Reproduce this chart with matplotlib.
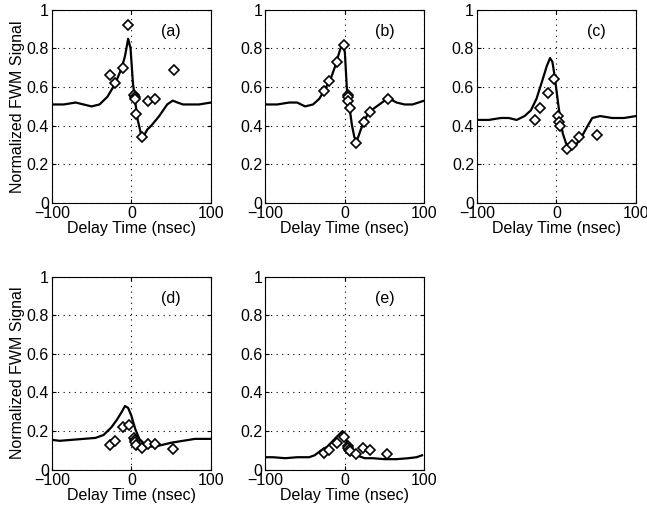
import numpy as np
import matplotlib.pyplot as plt

plt.rcParams['font.family'] = ['Liberation Sans', 'DejaVu Sans']

# --- curve data (delay time, normalized signal) ---
curve_a_t = [-100, -85, -70, -60, -50, -40, -30, -20, -12, -8, -4, -1, 2, 5, 8, 12, 16, 20, 25, 35, 45, 52, 58, 65, 75, 85, 100]
curve_a_y = [0.51, 0.51, 0.52, 0.51, 0.50, 0.51, 0.55, 0.62, 0.70, 0.76, 0.85, 0.80, 0.62, 0.52, 0.43, 0.36, 0.35, 0.38, 0.40, 0.45, 0.51, 0.53, 0.52, 0.51, 0.51, 0.51, 0.52]

curve_b_t = [-100, -85, -70, -60, -50, -40, -32, -25, -18, -12, -7, -3, 0, 3, 6, 9, 12, 15, 20, 25, 30, 40, 50, 56, 65, 75, 85, 100]
curve_b_y = [0.51, 0.51, 0.52, 0.52, 0.50, 0.51, 0.54, 0.59, 0.64, 0.71, 0.78, 0.83, 0.78, 0.56, 0.49, 0.40, 0.34, 0.32, 0.38, 0.43, 0.47, 0.50, 0.53, 0.54, 0.52, 0.51, 0.51, 0.53]

curve_c_t = [-100, -85, -70, -60, -50, -40, -32, -25, -18, -12, -8, -5, -2, 2, 5, 8, 12, 16, 22, 30, 38, 45, 55, 70, 85, 100]
curve_c_y = [0.43, 0.43, 0.44, 0.44, 0.43, 0.45, 0.48, 0.54, 0.63, 0.71, 0.75, 0.73, 0.65, 0.52, 0.43, 0.36, 0.31, 0.29, 0.29, 0.33, 0.39, 0.44, 0.45, 0.44, 0.44, 0.45]

curve_d_t = [-100, -90, -75, -60, -45, -35, -25, -18, -12, -8, -4, 0, 5, 10, 15, 20, 25, 35, 50, 65, 80, 100]
curve_d_y = [0.155, 0.15, 0.155, 0.16, 0.165, 0.18, 0.22, 0.26, 0.30, 0.33, 0.32, 0.28, 0.21, 0.16, 0.14, 0.13, 0.12, 0.125, 0.14, 0.15, 0.16, 0.16]

curve_e_t = [-100, -90, -75, -60, -45, -38, -30, -22, -15, -8, -3, 0, 3, 7, 12, 18, 25, 35, 50, 65, 80, 90, 97]
curve_e_y = [0.065, 0.065, 0.06, 0.065, 0.065, 0.075, 0.10, 0.12, 0.15, 0.18, 0.20, 0.18, 0.14, 0.10, 0.08, 0.07, 0.06, 0.06, 0.055, 0.055, 0.06, 0.065, 0.075]

# --- measured points ---
pts_a_t = [-27, -20, -11, -4, 3, 4, 5, 6, 14, 21, 30, 53]
pts_a_y = [0.66, 0.62, 0.70, 0.92, 0.56, 0.55, 0.54, 0.46, 0.34, 0.53, 0.54, 0.69]

pts_b_t = [-26, -19.5, -10, -1.5, 3.5, 4, 4.5, 6, 14.5, 23.5, 32, 54]
pts_b_y = [0.58, 0.63, 0.73, 0.82, 0.56, 0.55, 0.53, 0.49, 0.31, 0.42, 0.47, 0.54]

pts_c_t = [-26.5, -20.5, -11, -3.5, 2.5, 3.5, 4.5, 13, 20, 29, 51.5]
pts_c_y = [0.43, 0.49, 0.57, 0.64, 0.45, 0.42, 0.40, 0.28, 0.30, 0.34, 0.35]

pts_d_t = [-27, -20, -10, -3.5, 3, 4, 5, 6, 14, 20.5, 30, 52.5]
pts_d_y = [0.13, 0.15, 0.22, 0.23, 0.165, 0.155, 0.145, 0.13, 0.115, 0.135, 0.135, 0.11]

pts_e_t = [-26, -19.5, -10, -1.5, 3.5, 4, 5, 6, 14, 23, 31, 52.5]
pts_e_y = [0.085, 0.105, 0.14, 0.17, 0.125, 0.115, 0.105, 0.095, 0.08, 0.115, 0.10, 0.08]

labels = ['(a)', '(b)', '(c)', '(d)', '(e)']
curves = [(curve_a_t, curve_a_y), (curve_b_t, curve_b_y), (curve_c_t, curve_c_y),
          (curve_d_t, curve_d_y), (curve_e_t, curve_e_y)]
points = [(pts_a_t, pts_a_y), (pts_b_t, pts_b_y), (pts_c_t, pts_c_y),
          (pts_d_t, pts_d_y), (pts_e_t, pts_e_y)]

# --- layout ---
fig = plt.figure(figsize=(6.47, 5.14), dpi=100)
lefts = [0.080, 0.410, 0.737]
width = 0.246
rows = [0.605, 0.086]
height = 0.376
fs = 11.5

for i in range(5):
    ax = fig.add_axes([lefts[i % 3], rows[i // 3], width, height])
    ct, cy = curves[i]
    pt, py = points[i]
    ax.plot(ct, cy, color='black', lw=1.6, zorder=3)
    ax.plot(pt, py, 'D', ms=5.5, mfc='white', mec='black', mew=1.2, zorder=4)
    ax.set_xlim(-100, 100)
    ax.set_ylim(0, 1)
    ax.set_xticks([-100, 0, 100])
    ax.set_yticks([0, 0.2, 0.4, 0.6, 0.8, 1])
    ax.set_yticklabels(['0', '0.2', '0.4', '0.6', '0.8', '1'])
    ax.tick_params(direction='in', labelsize=fs, length=3, top=True, right=True, pad=2)
    ax.grid(True, color='black', linestyle=(0, (1, 4)), linewidth=0.8)
    ax.set_xlabel('Delay Time (nsec)', fontsize=fs, labelpad=0)
    if i % 3 == 0:
        ax.set_ylabel('Normalized FWM Signal', fontsize=fs, labelpad=1)
    ax.text(50, 0.885, labels[i], fontsize=fs, ha='center', va='center')

fig.savefig('out.png', dpi=100)
